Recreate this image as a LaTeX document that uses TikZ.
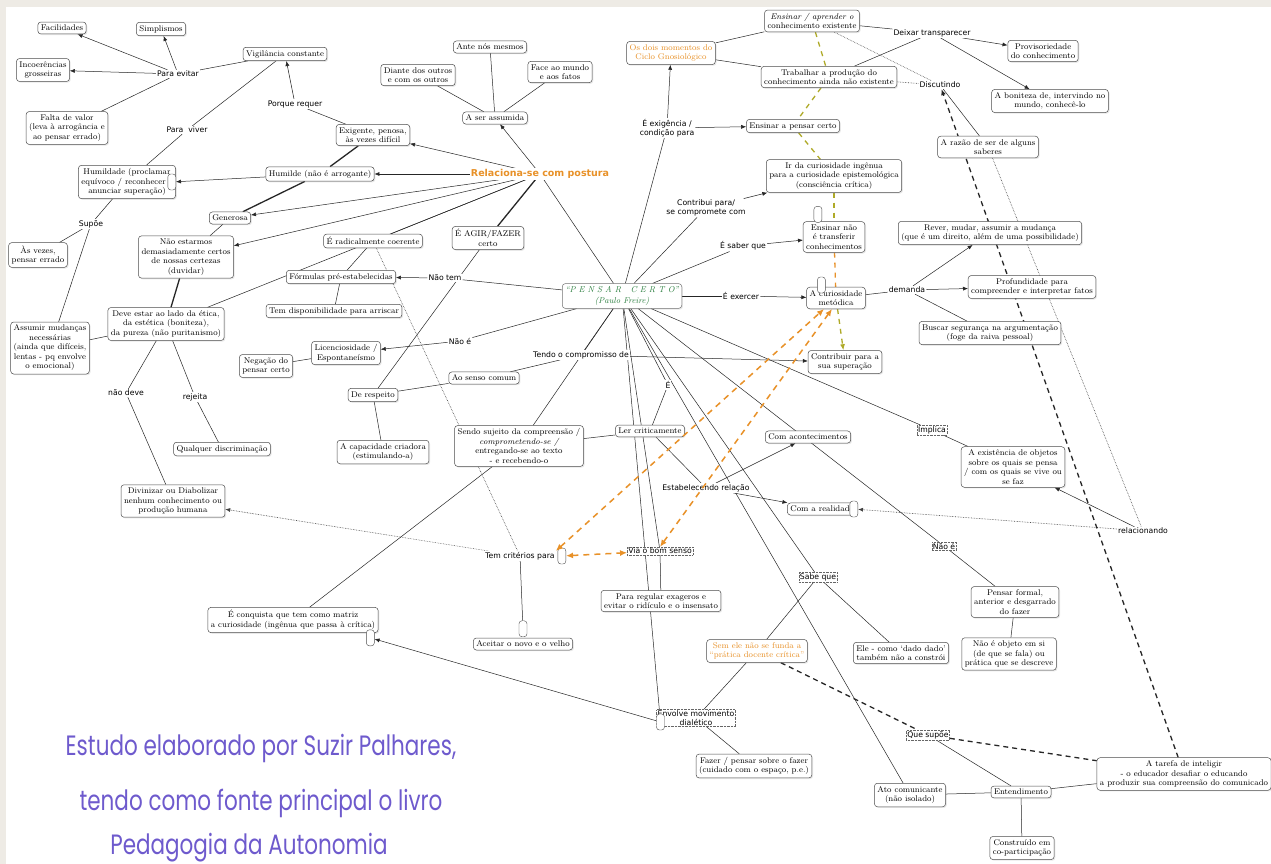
\documentclass[tikz,border=0pt]{standalone}
\usepackage{fontspec}
\newfontfamily\lblfont{DejaVu Sans}
\newfontfamily\handfont{Poppins}
\usetikzlibrary{arrows.meta,backgrounds,shadows}
\definecolor{cmaporange}{RGB}{232,145,40}
\definecolor{cmapgreen}{RGB}{40,125,60}
\definecolor{cmapolive}{RGB}{175,170,40}
\definecolor{handpurple}{RGB}{110,90,205}
\definecolor{slidebg}{RGB}{238,235,229}
\tikzset{
	concept/.style={draw=black!70, fill=white, rounded corners=3pt, align=center, inner sep=3pt, line width=0.5pt, font=\fontsize{8.3}{9.5}\selectfont, drop shadow={opacity=0.18, shadow xshift=1.2pt, shadow yshift=-1.2pt}},
	phrase/.style={fill=white, inner sep=1pt, align=center, font=\lblfont\fontsize{7.7}{9}\selectfont},
	dphrase/.style={phrase, draw=black!60, densely dotted},
	handle/.style={draw=black!70, fill=white, rounded corners=3pt, minimum width=8pt, minimum height=16pt, inner sep=0pt},
	conn/.style={black!85, line width=0.5pt},
	thickconn/.style={black!85, line width=1.3pt},
	arr/.style={conn, -{Latex[length=5pt,width=4pt]}},
	dotconn/.style={black!75, line width=0.6pt, densely dotted},
	heavydash/.style={black!85, line width=1.3pt, dash pattern=on 5pt off 4pt},
	olivedash/.style={cmapolive, line width=1.3pt, dash pattern=on 5pt off 5pt},
	gnosisarrow/.style={cmaporange, line width=1.5pt, dash pattern=on 6pt off 5pt, {Latex[length=7pt,width=6pt]}-{Latex[length=7pt,width=6pt]}},
	signature/.style={text=handpurple, font=\handfont\fontsize{21.5}{22}\selectfont, yscale=1.3, transform shape},
}
\begin{document}
\begin{tikzpicture}[x=1pt,y=-1pt]
	\begin{scope}[on background layer]
		\fill[white] (0,0) rectangle (1271,864);
		\fill[slidebg] (0,0) rectangle (1271,7);
		\fill[slidebg] (0,0) rectangle (6,864);
	\end{scope}
	\useasboundingbox (0,0) rectangle (1271,864);

	% centro
	\node[concept, draw=black!55, text=cmapgreen, font=\itshape\fontsize{8.5}{10.5}\selectfont] (pensar) at (622,296) {“P E N S A R \ \ C E R T O”\\(Paulo Freire)};
	\node[phrase, text=cmaporange, font=\lblfont\bfseries\fontsize{9.5}{11}\selectfont] (lrelac) at (540,174) {Relaciona-se com postura};

	% canto superior esquerdo
	\node[concept] (facil) at (62,28) {Facilidades};
	\node[concept] (simpl) at (161,29) {Simplismos};
	\node[concept] (incoer) at (43,70) {Incoerências\\grosseiras};
	\node[concept] (falta) at (67,128) {Falta de valor\\(leva à arrogância e\\ao pensar errado)};
	\node[concept] (vigil) at (285,54) {Vigilância constante};
	\node[concept] (exig) at (373,135) {Exigente, penosa,\\às vezes difícil};
	\node[concept] (humild) at (127,182) {Humildade (proclamar\\equívoco / reconhecer e\\anunciar superação)};
	\node[concept] (humilde) at (320,174) {Humilde (não é arrogante)};
	\node[concept] (gener) at (230,218) {Generosa};
	\node[concept] (asvezes) at (38,255) {Às vezes,\\pensar errado};
	\node[concept] (naoest) at (186,257) {Não estarmos\\demasiadamente certos\\de nossas certezas\\(duvidar)};
	\node[concept] (radical) at (373,241) {É radicalmente coerente};
	\node[concept] (agir) at (488,238) {É AGIR/FAZER\\certo};
	\node[concept] (formul) at (341,277) {Fórmulas pré-estabelecidas};
	\node[concept] (disponib) at (334,311) {Tem disponibilidade para arriscar};
	\node[concept] (assumir) at (50,348) {Assumir mudanças\\necessárias\\(ainda que difíceis,\\lentas - pq envolve\\o emocional)};
	\node[concept] (deve) at (166,324) {Deve estar ao lado da ética,\\da estética (boniteza),\\da pureza (não puritanismo)};
	\node[concept] (negacao) at (266,366) {Negação do\\pensar certo};
	\node[concept] (licenc) at (346,353) {Licenciosidade /\\Espontaneísmo};
	\node[concept] (senso) at (484,378) {Ao senso comum};
	\node[concept] (respeito) at (373,395) {De respeito};
	\node[concept] (discrim) at (222,449) {Qualquer discriminação};
	\node[concept] (capac) at (383,452) {A capacidade criadora\\(estimulando-a)};
	\node[concept] (divin) at (173,501) {Divinizar ou Diabolizar\\nenhum conhecimento ou\\produção humana};

	% topo
	\node[concept] (ante) at (490,47) {Ante nós mesmos};
	\node[concept] (diante) at (418,75) {Diante dos outros\\e com os outros};
	\node[concept] (face) at (560,72) {Face ao mundo\\e aos fatos};
	\node[concept] (assumida) at (495,118) {A ser assumida};
	\node[concept, text=cmaporange] (momentos) at (671,53) {Os dois momentos do\\Ciclo Gnosiológico};
	\node[concept] (ensapr) at (812,21) {\itshape Ensinar / aprender o\\conhecimento existente};
	\node[concept] (trabalhar) at (829,77) {Trabalhar a produção do\\conhecimento ainda não existente};
	\node[concept] (provis) at (1043,51) {Provisoriedade\\do conhecimento};
	\node[concept] (bonit) at (1050,101) {A boniteza de, intervindo no\\mundo, conhecê-lo};
	\node[concept] (razao) at (988,147) {A razão de ser de alguns\\saberes};
	\node[concept] (enspc) at (793,126) {Ensinar a pensar certo};
	\node[concept] (curiosid) at (834,176) {Ir da curiosidade ingênua\\para a curiosidade epistemológica\\(consciência crítica)};
	\node[concept] (transf) at (834,237) {Ensinar não\\é transferir\\conhecimentos};
	\node[concept] (rever) at (990,233) {Rever, mudar, assumir a mudança\\(que é um direito, além de uma possibilidade)};
	\node[concept] (metod) at (836,298) {A curiosidade\\metódica};
	\node[concept] (profund) at (1032,287) {Profundidade para\\compreender e interpretar fatos};
	\node[concept] (seguranca) at (990,333) {Buscar segurança na argumentação\\(foge da raiva pessoal)};
	\node[concept] (superac) at (845,362) {Contribuir para a\\sua superação};

	% meio e baixo
	\node[concept] (sujeito) at (519,446) {Sendo sujeito da compreensão /\\\itshape comprometendo-se /\\entregando-se ao texto\\- e recebendo-o};
	\node[concept] (ler) at (650,431) {Ler criticamente};
	\node[concept] (acontec) at (808,437) {Com acontecimentos};
	\node[concept] (realid) at (822,509) {Com a realidade};
	\node[concept] (existe) at (1013,467) {A existência de objetos\\sobre os quais se pensa\\/ com os quais se vive ou\\se faz};
	\node[concept] (conquista) at (293,620) {É conquista que tem como matriz\\a curiosidade (ingênua que passa à crítica)};
	\node[concept] (aceitar) at (523,644) {Aceitar o novo e o velho};
	\node[concept] (regular) at (661,601) {Para regular exageros e\\evitar o ridículo e o insensato};
	\node[concept, text=cmaporange] (semele) at (757,651) {Sem ele não se funda a\\“prática docente crítica”};
	\node[concept] (dado) at (901,653) {Ele - como ‘dado dado’\\também não a constrói};
	\node[concept] (formal) at (1015,602) {Pensar formal,\\anterior e desgarrado\\do fazer};
	\node[concept] (objeto) at (1009,654) {Não é objeto em si\\(de que se fala) ou\\prática que se descreve};
	\node[concept] (fazer) at (754,766) {Fazer / pensar sobre o fazer\\(cuidado com o espaço, p.e.)};
	\node[concept] (ato) at (910,795) {Ato comunicante\\(não isolado)};
	\node[concept] (entend) at (1021,792) {Entendimento};
	\node[concept] (tarefa) at (1184,774) {A tarefa de inteligir\\- o educador desafiar o educando\\a produzir sua compreensão do comunicado};
	\node[concept] (constr) at (1022,848) {Construído em\\co-participação};

	% frases de ligação
	\node[phrase] (lpara) at (178,74) {Para evitar};
	\node[phrase] (lporque) at (295,104) {Porque requer};
	\node[phrase] (lviver) at (187,130) {Para \ viver};
	\node[phrase] (lsupoe) at (91,224) {Supõe};
	\node[phrase] (lnaotem) at (445,278) {Não tem};
	\node[phrase] (lnaoe) at (460,341) {Não é};
	\node[phrase] (ltendo) at (581,355) {Tendo o compromisso de};
	\node[phrase] (lnaodeve) at (126,393) {não deve};
	\node[phrase] (lrejeita) at (195,397) {rejeita};
	\node[phrase] (le) at (668,385) {É};
	\node[phrase] (lestab) at (706,488) {Estabelecendo relação};
	\node[dphrase] (limplica) at (932,430) {Implica};
	\node[phrase] (lrelacion) at (1143,531) {relacionando};
	\node[dphrase] (lnaoe2) at (944,546) {Não é};
	\node[phrase] (ltem) at (520,556) {Tem critérios para};
	\node[dphrase] (lvia) at (660,551) {Via o bom senso};
	\node[dphrase] (lsabe) at (818,577) {Sabe que};
	\node[dphrase] (lenvolve) at (696,718) {Envolve movimento\\dialético};
	\node[dphrase] (lquesup) at (928,735) {Que supõe};
	\node[phrase] (lexig) at (667,128) {É exigência /\\condição para};
	\node[phrase] (lcontrib) at (706,208) {Contribui para/\\se compromete com};
	\node[phrase] (lsaber) at (743,246) {É saber que};
	\node[phrase] (lexercer) at (741,296) {É exercer};
	\node[phrase] (ldemanda) at (907,290) {demanda};
	\node[phrase] (ldeixar) at (932,33) {Deixar transparecer};
	\node[phrase] (ldiscut) at (940,85) {Discutindo};

	% puxadores
	\node[handle] (humh) at ([xshift=-4pt]humild.east) {};
	\node[handle] (transh) at ([xshift=15pt,yshift=7pt]transf.north west) {};
	\node[handle] (metodh) at ([xshift=15pt,yshift=2pt]metod.north west) {};
	\node[handle] (realh) at ([xshift=-3pt]realid.east) {};
	\node[handle] (temh) at ([xshift=6pt]ltem.east) {};
	\node[handle] (aceith) at ([yshift=9pt]aceitar.north) {};
	\node[handle] (conqh) at ([xshift=-8pt,yshift=-5pt]conquista.south east) {};
	\node[handle] (envh) at ([xshift=4pt,yshift=-4pt]lenvolve.west) {};

	\begin{scope}[on background layer]
		\draw[conn] (vigil) -- (lpara);
		\draw[conn] (falta) -- (lpara);
		\draw[arr] (lpara) -- (facil);
		\draw[arr] (lpara) -- (simpl);
		\draw[arr] (lpara) -- (incoer);
		\draw[conn] (exig) -- (lporque);
		\draw[arr] (lporque) -- (vigil);
		\draw[conn] (vigil) -- (lviver) -- (humild);
		\draw[arr] (humilde) -- (humh);
		\draw[thickconn] (exig) -- (humilde);
		\draw[thickconn] (humilde) -- (gener);
		\draw[conn] (gener) -- (naoest);
		\draw[conn] (humild) -- (lsupoe);
		\draw[conn] (lsupoe) -- (asvezes);
		\draw[conn] (lsupoe) -- (assumir);
		\draw[thickconn] (naoest) -- (deve);
		\draw[conn] (deve) -- (assumir);
		\draw[conn] (pensar) -- (lrelac);
		\draw[arr] (lrelac) -- (assumida);
		\draw[arr] (lrelac) -- (exig);
		\draw[arr] (lrelac) -- (humilde);
		\draw[arr] (lrelac) -- (gener);
		\draw[arr] (lrelac) -- (naoest);
		\draw[conn] (lrelac) -- (deve);
		\draw[conn] (lrelac) -- (radical);
		\draw[thickconn] (lrelac) -- (agir);
		\draw[conn] (assumida) -- (ante);
		\draw[conn] (assumida) -- (diante);
		\draw[conn] (assumida) -- (face);
		\draw[conn] (pensar) -- (lnaotem);
		\draw[arr] (lnaotem) -- (formul);
		\draw[conn] (radical) -- (formul);
		\draw[conn] (formul) -- (disponib);
		\draw[dotconn] (radical) -- (ltem);
		\draw[dotconn, -{Latex[length=5pt,width=4pt]}] (ltem) -- (divin);
		\draw[conn] (agir) -- (respeito);
		\draw[conn] (respeito) -- (senso);
		\draw[conn] (respeito) -- (capac);
		\draw[conn] (negacao) -- (licenc);
		\draw[conn] (pensar) -- (lnaoe);
		\draw[arr] (lnaoe) -- (licenc);
		\draw[conn] (pensar) -- (ltendo);
		\draw[arr] (ltendo) -- (superac);
		\draw[conn] (ltendo) -- (senso);
		\draw[conn] (deve) -- (lnaodeve) -- (divin);
		\draw[conn] (deve) -- (lrejeita) -- (discrim);
		\draw[conn] (pensar) -- (sujeito);
		\draw[conn] (sujeito) -- (ler);
		\draw[conn] (sujeito) -- (conquista);
		\draw[conn] (pensar) -- (le) -- (ler);
		\draw[conn] (ler) -- (lestab);
		\draw[arr] (lestab) -- (acontec);
		\draw[arr] (lestab) -- (realid);
		\draw[conn] (pensar) -- (limplica) -- (existe);
		\draw[conn] (pensar) -- (lnaoe2) -- (formal);
		\draw[conn] (formal) -- (objeto);
		\draw[arr] (lrelacion) -- (existe);
		\draw[dotconn, -{Latex[length=5pt,width=4pt]}] (lrelacion) -- (realh);
		\draw[dotconn] (razao) -- (lrelacion);
		\draw[conn] (pensar) -- (envh);
		\draw[conn] (pensar) -- (lvia) -- (regular);
		\draw[conn] (ltem) -- (aceith);
		\draw[arr] (envh) -- (conqh);
		\draw[conn] (pensar) -- (lsabe);
		\draw[conn] (lsabe) -- (semele);
		\draw[conn] (lsabe) -- (dado);
		\draw[conn] (pensar) -- (ato);
		\draw[conn] (semele) -- (lenvolve);
		\draw[conn] (lenvolve) -- (fazer);
		\draw[heavydash] (semele) -- (lquesup);
		\draw[heavydash] (lquesup) -- (tarefa);
		\draw[conn] (lquesup) -- (entend);
		\draw[conn] (ato) -- (entend);
		\draw[conn] (entend) -- (tarefa);
		\draw[conn] (entend) -- (constr);
		\draw[heavydash, -{Latex[length=6pt,width=5pt]}] (tarefa) -- (ldiscut);
		\draw[conn] (ldiscut) -- (razao);
		\draw[dotconn] (ensapr) -- (ldiscut);
		\draw[dotconn] (trabalhar) -- (ldiscut);
		\draw[conn] (momentos) -- (ensapr);
		\draw[conn] (momentos) -- (trabalhar);
		\draw[conn] (ensapr) -- (ldeixar);
		\draw[conn] (trabalhar) -- (ldeixar);
		\draw[arr] (ldeixar) -- (provis);
		\draw[arr] (ldeixar) -- (bonit);
		\draw[conn] (pensar) -- (lexig);
		\draw[arr] (lexig) -- (momentos);
		\draw[arr] (lexig) -- (enspc);
		\draw[conn] (pensar) -- (lcontrib);
		\draw[arr] (lcontrib) -- (curiosid);
		\draw[conn] (pensar) -- (lsaber);
		\draw[arr] (lsaber) -- (transf);
		\draw[conn] (pensar) -- (lexercer);
		\draw[arr] (lexercer) -- (metod);
		\draw[conn] (metod) -- (ldemanda);
		\draw[arr] (ldemanda) -- (rever);
		\draw[arr] (ldemanda) -- (profund);
		\draw[conn] (ldemanda) -- (seguranca);
		\draw[olivedash] (ensapr) -- (trabalhar);
		\draw[olivedash] (trabalhar) -- (enspc);
		\draw[olivedash] (enspc) -- (curiosid);
		\draw[olivedash] (curiosid) -- (transf);
		\draw[olivedash, cmaporange] (transf) -- (metod);
		\draw[olivedash, -{Latex[length=6pt,width=5pt]}] (metod) -- (superac);
	\end{scope}

	\draw[gnosisarrow] (ltem.north east) -- ([xshift=-12pt]metod.south);
	\draw[gnosisarrow] (lvia.north) -- ([xshift=-4pt]metod.south);
	\draw[gnosisarrow] (temh) -- (lvia);

	% autoria
	\node[signature] (autor1) at (261,748) {Estudo elaborado por Suzir Palhares,};
	\node[signature] (autor2) at (261,803) {tendo como fonte principal o livro};
	\node[signature] (autor3) at (249,848) {Pedagogia da Autonomia};
\end{tikzpicture}
\end{document}
